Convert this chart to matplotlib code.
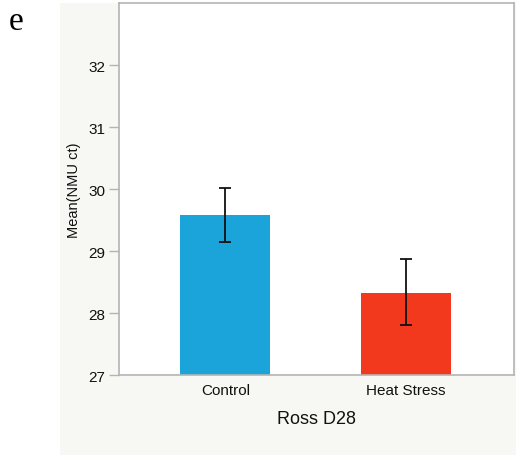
import matplotlib
matplotlib.use("Agg")
import matplotlib.pyplot as plt
from matplotlib.patches import Rectangle

# Group means and error half-widths (NMU ct)
groups = ["Control", "Heat Stress"]
means = [29.58, 28.33]
err_lo = [0.43, 0.52]
err_hi = [0.44, 0.54]
bar_colors = ["#1ba4d9", "#f2391d"]
yticks = [27, 28, 29, 30, 31, 32]

W, H = 516, 456
fig = plt.figure(figsize=(W / 100, H / 100), dpi=100)
fig.patch.set_facecolor("white")

# light backdrop panel behind the plot
fig.patches.append(Rectangle((60 / W, 0), 1 - 60 / W, (H - 4) / H,
                             transform=fig.transFigure, facecolor="#f7f7f3",
                             edgecolor="none", zorder=-10))

ax = fig.add_axes([119 / W, 80 / H, 395 / W, 372 / H])
ax.set_zorder(1)
ax.set_facecolor("white")

x = list(range(len(groups)))
ax.bar(x, means, width=0.5, bottom=0, color=bar_colors, zorder=2)
ax.errorbar(x, means, yerr=[err_lo, err_hi], fmt="none", ecolor="#111111",
            elinewidth=1.3, capsize=4.5, capthick=1.3, zorder=3)

ax.set_ylim(27, 33)
ax.set_xlim(-0.589, 1.6)
ax.set_yticks(yticks)
ax.set_xticks(x)
ax.set_xticklabels(groups, fontsize=11, family="Liberation Sans", color="#111111")
for lab in ax.get_yticklabels():
    lab.set_fontsize(11)
    lab.set_family("Liberation Sans")
    lab.set_color("#111111")

for s in ax.spines.values():
    s.set_color("#b4b4b4")
    s.set_linewidth(1.2)

ax.tick_params(axis="y", length=7, width=1, color="#b4b4b4", pad=3)
ax.tick_params(axis="x", length=0, pad=6)

ax.set_ylabel("Mean(NMU ct)", fontsize=10.5, family="Liberation Sans",
              color="#111111", labelpad=5)
ax.set_xlabel("Ross D28", fontsize=13, family="Liberation Sans",
              color="#111111", labelpad=9)

fig.text(16 / W, 1 - 22 / H, "e", fontsize=24, family="Liberation Serif",
         ha="center", va="center", color="black")

fig.savefig("out.png", dpi=100, facecolor=fig.get_facecolor())
